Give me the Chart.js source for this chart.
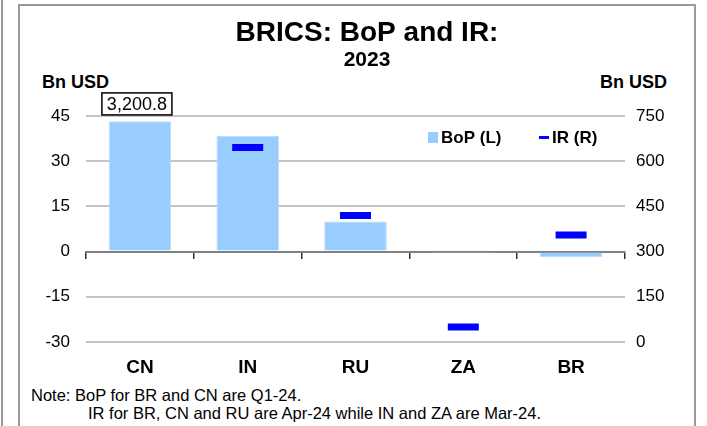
<!DOCTYPE html>
<html>
<head>
<meta charset="utf-8">
<script src="https://cdn.jsdelivr.net/npm/chart.js@4.4.1/dist/chart.umd.min.js"></script>
<style>
  body { margin: 0; width: 707px; height: 426px; position: relative; overflow: hidden; background: #fff; font-family: Arial, "Liberation Sans", sans-serif; }
  .edge { position: absolute; left: 1px; top: 0; width: 2px; height: 426px; background: #999; }
  .frame { position: absolute; left: 18px; top: 4px; width: 674px; height: 440px; border: 2px solid #999; }
  #wrap { position: absolute; left: 27px; top: 0; width: 680px; height: 382px; }
  .unit { position: absolute; top: 72px; font: bold 18px Arial, "Liberation Sans", sans-serif; color: #000; }
  .note { position: absolute; font: 16.5px Arial, "Liberation Sans", sans-serif; color: #000; white-space: nowrap; }
</style>
</head>
<body>
<div class="edge"></div>
<div class="frame"></div>
<div class="unit" style="left:42px">Bn USD</div>
<div class="unit" style="right:40px">Bn USD</div>
<div id="wrap"><canvas id="chart"></canvas></div>
<div class="note" style="left:31px; top:386px">Note: BoP for BR and CN are Q1-24.</div>
<div class="note" style="left:88px; top:404px">IR for BR, CN and RU are Apr-24 while IN and ZA are Mar-24.</div>
<script>
const countries = ["CN", "IN", "RU", "ZA", "BR"];
const bopValues = [43.2, 38.4, 10.0, -0.5, -1.9];      // Bn USD, left axis
const irValues = [3200.8, 645, 420, 50, 355];         // Bn USD, right axis
const leftTicks = [-30, 45, 15];                       // min, max, step
const rightTicks = [0, 750, 150];

const barColor = "#99ccff";
const irColor = "#0000ff";
const font = "Arial, 'Liberation Sans', sans-serif";

// legend drawn inside the plot, top right
const legendPlugin = {
  id: "insideLegend",
  afterDraw(chart) {
    const ctx = chart.ctx;
    ctx.save();
    ctx.font = "bold 17px " + font;
    ctx.textBaseline = "middle";
    ctx.fillStyle = barColor;
    ctx.fillRect(401, 132, 10, 11);
    ctx.fillStyle = "#000";
    ctx.fillText(chart.data.datasets[0].label, 414, 138);
    ctx.fillStyle = irColor;
    ctx.fillRect(512, 136, 10, 3);
    ctx.fillStyle = "#000";
    ctx.fillText(chart.data.datasets[1].label, 525, 138);
    ctx.restore();
  }
};

// off-scale IR value for CN shown as a boxed label
const offScalePlugin = {
  id: "offScale",
  afterDatasetsDraw(chart) {
    const ctx = chart.ctx;
    const yMax = chart.scales.y2.max;
    const meta = chart.getDatasetMeta(0);
    irValues.forEach((v, i) => {
      if (v <= yMax) return;
      const cx = meta.data[i].x - 3;
      const top = chart.chartArea.top;
      ctx.save();
      ctx.fillStyle = "#fff";
      ctx.fillRect(cx - 35, top - 23, 70, 22);
      ctx.strokeStyle = "#000";
      ctx.lineWidth = 1.5;
      ctx.strokeRect(cx - 35, top - 23, 70, 22);
      ctx.fillStyle = "#000";
      ctx.font = "18px " + font;
      ctx.textAlign = "center";
      ctx.textBaseline = "middle";
      ctx.fillText(v.toLocaleString("en-US", {minimumFractionDigits: 1}), cx, top - 11);
      ctx.restore();
    });
  }
};

new Chart(document.getElementById("chart"), {
  data: {
    labels: countries,
    datasets: [
      {
        type: "bar",
        label: "BoP (L)",
        data: bopValues,
        yAxisID: "y",
        backgroundColor: barColor,
        borderColor: "#b8dcff",
        borderWidth: 1,
        barPercentage: 0.58,
        categoryPercentage: 1,
        order: 2
      },
      {
        type: "line",
        label: "IR (R)",
        data: irValues,
        yAxisID: "y2",
        showLine: false,
        pointStyle: "line",
        pointRadius: 15.5,
        pointBorderWidth: 7,
        borderWidth: 7,
        borderColor: irColor,
        pointBorderColor: irColor,
        order: 1
      }
    ]
  },
  options: {
    responsive: true,
    maintainAspectRatio: false,
    animation: false,
    layout: { padding: 0 },
    plugins: {
      legend: { display: false },
      tooltip: { enabled: false },
      title: {
        display: true,
        text: "BRICS: BoP and IR:",
        color: "#000",
        font: { family: font, size: 28, weight: "bold", lineHeight: 1.1 },
        padding: { top: 18, bottom: 0 }
      },
      subtitle: {
        display: true,
        text: "2023",
        color: "#000",
        font: { family: font, size: 21, weight: "bold", lineHeight: 1.1 },
        padding: { top: 0, bottom: 44 }
      }
    },
    scales: {
      x: {
        type: "category",
        position: "bottom",
        grid: { display: false },
        border: { display: false },
        ticks: { color: "#000", font: { family: font, size: 19, weight: "bold" }, padding: 6 },
        afterFit(s) { s.height = 40; }
      },
      x2: {
        type: "category",
        labels: countries,
        position: { y: 0 },
        offset: true,
        grid: { display: true, drawOnChartArea: false, drawTicks: true, tickLength: 6, color: "#333", lineWidth: 1.5, offset: true },
        border: { display: true, color: "#808080", width: 2 },
        ticks: { display: false }
      },
      y: {
        position: "left",
        min: leftTicks[0],
        max: leftTicks[1],
        ticks: { stepSize: leftTicks[2], color: "#000", font: { family: font, size: 17 }, padding: 16 },
        grid: {
          drawTicks: false,
          lineWidth: 2,
          color: (c) => (c.tick && c.tick.value === 0 ? "#808080" : "#c4c4c4")
        },
        border: { display: false },
        afterFit(s) { s.width = 59; }
      },
      y2: {
        position: "right",
        min: rightTicks[0],
        max: rightTicks[1],
        ticks: { stepSize: rightTicks[2], color: "#000", font: { family: font, size: 17 }, padding: 11 },
        grid: { display: false, drawTicks: false },
        border: { display: false },
        afterFit(s) { s.width = 82; }
      }
    }
  },
  plugins: [legendPlugin, offScalePlugin]
});
</script>
</body>
</html>
